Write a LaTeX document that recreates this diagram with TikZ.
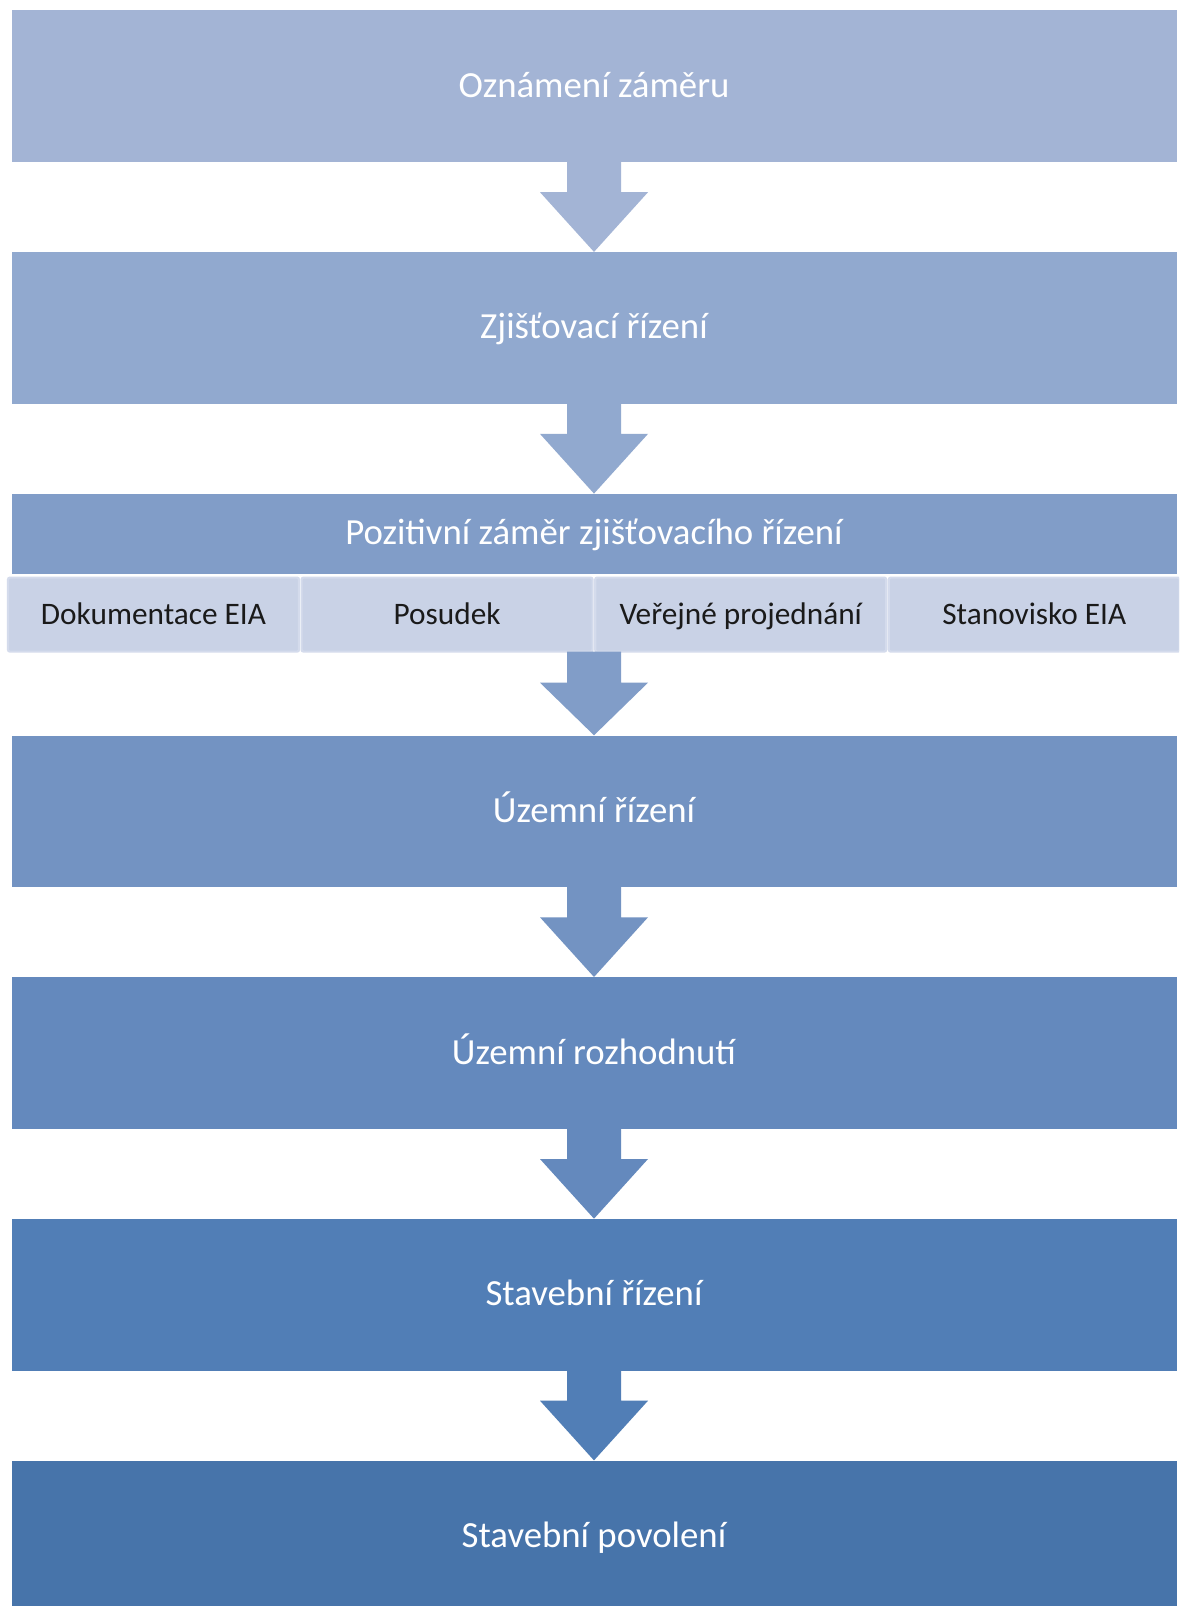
\documentclass[tikz,border=0pt]{standalone}
\usepackage{fontspec}
\setmainfont{Carlito}
\usetikzlibrary{calc}
\definecolor{cA}{HTML}{A3B4D5}
\definecolor{cB}{HTML}{91A9CF}
\definecolor{cC}{HTML}{819DC8}
\definecolor{cD}{HTML}{7393C2}
\definecolor{cE}{HTML}{6489BD}
\definecolor{cF}{HTML}{517EB6}
\definecolor{cG}{HTML}{4774AA}
\definecolor{cellfill}{HTML}{C9D2E6}
\definecolor{cellline}{HTML}{D4DBEC}
\definecolor{celltext}{HTML}{1A1A1A}
\newcommand\blockarrow[3]{%
  \fill[#3] ($(#1)+(-27,1)$) -- ($(#1)+(-27,-30)$) -- ($(#1)+(-54,-30)$) --
    (#2) -- ($(#1)+(54,-30)$) -- ($(#1)+(27,-30)$) -- ($(#1)+(27,1)$) -- cycle;}
\tikzset{
  stagebox/.style={anchor=north, minimum width=1165pt, minimum height=151.6pt,
    inner sep=0pt, text=white, font=\fontsize{36.8}{40}\selectfont,
    text height=22pt, text depth=0pt},
  headbox/.style={stagebox, minimum height=80pt},
  cellbox/.style={anchor=north, minimum width=291pt, minimum height=74pt,
    inner sep=0pt, fill=cellfill, draw=cellline, line width=2.2pt,
    rounded corners=2pt, text=celltext, font=\fontsize{31.3}{35}\selectfont,
    text height=19pt, text depth=0pt}
}
\begin{document}
\begin{tikzpicture}[x=1pt,y=1pt]
\useasboundingbox (0,0) rectangle (1179,-1606);
\fill[white] (0,0) rectangle (1179,-1606);
\clip (0,0) rectangle (1179,-1606);
\node[stagebox, fill=cA] (b1) at (594,-10.2) {Oznámení záměru};
\node[stagebox, fill=cB] (b2) at (594,-251.9) {Zjišťovací řízení};
\node[headbox, fill=cC] (b3) at (594,-493.6) {Pozitivní záměr zjišťovacího řízení};
\node[cellbox] (c1) at (153.5,-576.5) {Dokumentace EIA};
\node[cellbox] (c2) at (447.1,-576.5) {Posudek};
\node[cellbox] (c3) at (740.7,-576.5) {Veřejné projednání};
\node[cellbox] (c4) at (1034.3,-576.5) {Stanovisko EIA};
\coordinate (s3) at (b3.south |- c2.south);
\node[stagebox, fill=cD] (b4) at (594,-735.3) {Územní řízení};
\node[stagebox, fill=cE] (b5) at (594,-977) {Územní rozhodnutí};
\node[stagebox, fill=cF] (b6) at (594,-1218.7) {Stavební řízení};
\node[stagebox, fill=cG] (b7) at (594,-1460.4) {Stavební povolení};
\blockarrow{b1.south}{b2.north}{cA}
\blockarrow{b2.south}{b3.north}{cB}
\blockarrow{s3}{b4.north}{cC}
\blockarrow{b4.south}{b5.north}{cD}
\blockarrow{b5.south}{b6.north}{cE}
\blockarrow{b6.south}{b7.north}{cF}
\end{tikzpicture}
\end{document}
